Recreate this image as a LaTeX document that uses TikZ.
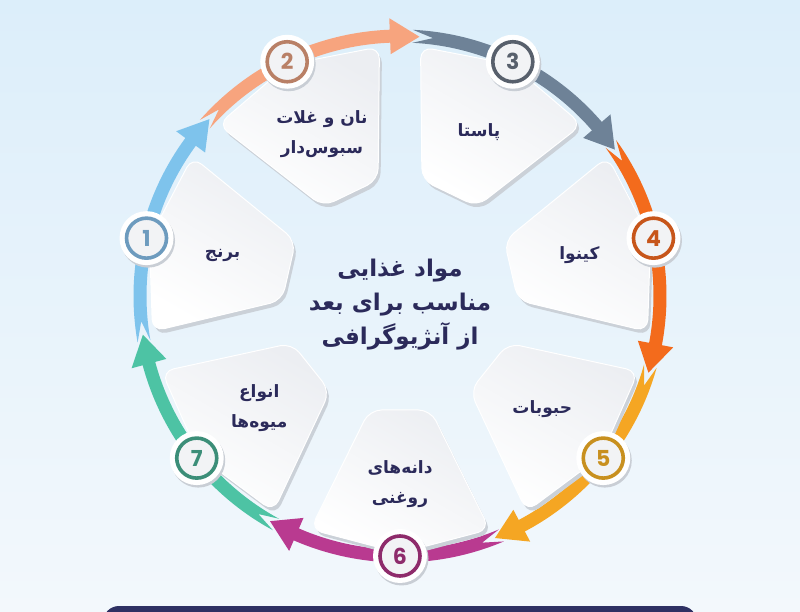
\documentclass[tikz,border=0pt]{standalone}
\usepackage{fontspec}
\newfontfamily\fa[Script=Arabic]{DejaVu Sans}
\newfontfamily\numfont{Poppins}
\TeXXeTstate=1
\definecolor{bgtop}{HTML}{DCEEFA}
\definecolor{bgbot}{HTML}{F3F8FC}
\definecolor{txt}{HTML}{2B2A5A}
\definecolor{navy}{HTML}{2F3163}
\definecolor{cardsh}{HTML}{CBD1D8}
\definecolor{cardtop}{HTML}{ECEEF2}
\definecolor{badgein}{HTML}{F2F3F5}
\definecolor{badgesh}{HTML}{C9CED5}
\definecolor{c1}{HTML}{7EC3EC}
\definecolor{c2}{HTML}{F7A47E}
\definecolor{c3}{HTML}{6E8297}
\definecolor{c4}{HTML}{F36B1C}
\definecolor{c5}{HTML}{F5A623}
\definecolor{c6}{HTML}{B93A90}
\definecolor{c7}{HTML}{4DC3A4}
\definecolor{r1}{HTML}{6D9BBE}
\definecolor{r2}{HTML}{B98066}
\definecolor{r3}{HTML}{58606C}
\definecolor{r4}{HTML}{C7561B}
\definecolor{r5}{HTML}{C8901F}
\definecolor{r6}{HTML}{8E2B6B}
\definecolor{r7}{HTML}{3C8E78}
\tikzset{
  cardshadow/.style={fill=cardsh, rounded corners=12pt},
  cardface/.style={top color=cardtop, bottom color=white, shading angle=-30, draw=white, line width=1pt, rounded corners=12pt},
  badgering/.style={circle, minimum size=40pt, inner sep=0pt, line width=3.6pt, fill=badgein, font=\numfont\bfseries\fontsize{22}{22}\selectfont},
  cardtxt/.style={font=\fa\bfseries\fontsize{17}{30}\selectfont, text=txt, align=center},
  titletxt/.style={font=\fa\bfseries\fontsize{23}{34}\selectfont, text=txt, align=center}
}
\begin{document}
\begin{tikzpicture}[x=1pt,y=1pt]
\useasboundingbox (0,0) rectangle (800,611);
\clip (0,0) rectangle (800,611);
\shade[top color=bgtop, bottom color=bgbot] (0,0) rectangle (800,611);
\fill[navy, rounded corners=16pt] (103,-30) rectangle (697,5);
\begin{scope}[shift={(400,315)}]
  % ring arrows
  \foreach \k in {1,...,7} {
    \pgfmathsetmacro\th{167.142857-51.428571*(\k-1)}
    \pgfmathsetmacro\ta{\th+21.43+1.5}
    \pgfmathsetmacro\tn{\th+21.43-3}
    \pgfmathsetmacro\tp{\th-30}
    \pgfmathsetmacro\hb{\th-30+6.5}
    \fill[c\k] (\ta:266.5) arc[start angle=\ta, end angle=\hb, radius=266.5]
      -- (\hb:278) -- (\tp:260) -- (\hb:242) -- (\hb:253.5)
      arc[start angle=\hb, end angle=\ta, radius=253.5] -- (\tn:260) -- cycle;
  }
  % cards
  \foreach \k in {1,...,7} {
    \pgfmathsetmacro\th{167.142857-51.428571*(\k-1)}
    \pgfmathsetmacro\aa{\th+21}
    \pgfmathsetmacro\ab{\th-21}
    \pgfmathsetmacro\ac{\th-15}
    \pgfmathsetmacro\ad{\th+15}
    \fill[cardshadow, xshift=2.5pt, yshift=-4pt] (\aa:250) -- (\th:257) -- (\ab:250) -- (\ac:118) -- (\ad:118) -- cycle;
    \shade[cardface] (\aa:250) -- (\th:257) -- (\ab:250) -- (\ac:118) -- (\ad:118) -- cycle;
  }
  % badges
  \foreach \k in {1,...,7} {
    \pgfmathsetmacro\th{167.142857-51.428571*(\k-1)}
    \fill[badgesh] (\th:260) ++(1.5,-2.5) circle (27);
    \fill[white] (\th:260) circle (27);
    \node[badgering, draw=r\k, text=r\k] (b\k) at (\th:260) {\k};
  }
  % texts
  \node[cardtxt] (t1) at (167.14:182) {\beginR برنج\endR};
  \node[cardtxt] (t2) at (115.71:180) {\beginR نان و غلات\endR\\\beginR سبوس^^^^200cدار\endR};
  \node[cardtxt] (t3) at (64.29:182) {\beginR پاستا\endR};
  \node[cardtxt] (t4) at (12.86:184) {\beginR کینوا\endR};
  \node[cardtxt] (t5) at (-38.57:182) {\beginR حبوبات\endR};
  \node[cardtxt] (t6) at (-90:188) {\beginR دانه^^^^200cهای\endR\\\beginR روغنی\endR};
  \node[cardtxt] (t7) at (-141.43:180) {\beginR انواع\endR\\\beginR میوه^^^^200cها\endR};
  \node[titletxt] (title) at (0,-9) {\beginR مواد غذایی\endR\\\beginR مناسب برای بعد\endR\\\beginR از آنژیوگرافی\endR};
\end{scope}
\end{tikzpicture}
\end{document}
